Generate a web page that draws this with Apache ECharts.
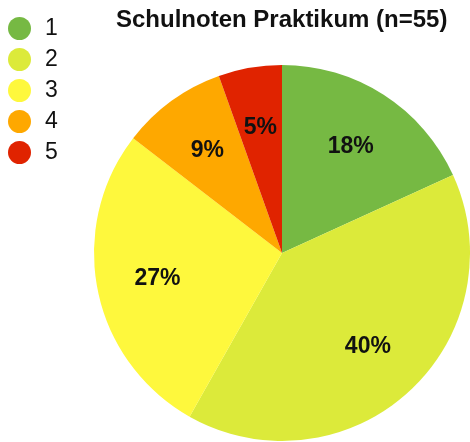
<!DOCTYPE html>
<html>
<head>
<meta charset="utf-8">
<script src="https://cdn.jsdelivr.net/npm/echarts@6/dist/echarts.min.js"></script>
<style>
  html, body { margin: 0; padding: 0; background: #fff; }
  #chart { width: 470px; height: 442px; }
</style>
</head>
<body>
<div id="chart"></div>
<script>
// Schulnoten Praktikum, n=55
let grades = ["1", "2", "3", "4", "5"];
let counts = [10, 22, 15, 5, 3];
let colors = ["#76b943", "#dcea3a", "#fef83d", "#fea800", "#e02300"];

let chartDom = document.getElementById("chart");
let chart = echarts.init(chartDom);

let total = counts.reduce((a, b) => a + b, 0);
let pieData = grades.map((g, i) => ({ name: g, value: counts[i] }));

let font = "'Liberation Sans', Arial, Helvetica, sans-serif";

chart.setOption({
    animation: false,
    color: colors,
    title: {
        text: "Schulnoten Praktikum (n=" + total + ")",
        left: 111,
        top: 3,
        textStyle: { fontFamily: font, fontSize: 24, fontWeight: "bold", color: "#111" }
    },
    legend: {
        orient: "vertical",
        left: 3,
        top: 12,
        icon: "circle",
        itemWidth: 23,
        itemHeight: 23,
        itemGap: 8,
        data: grades,
        textStyle: { fontFamily: font, fontSize: 23, color: "#111", padding: [0, 0, 0, 9] }
    },
    series: [
        {
            type: "pie",
            center: [282, 253],
            radius: [0, 188],
            startAngle: 90,
            clockwise: true,
            data: pieData,
            label: { show: false },
            labelLine: { show: false },
            emphasis: { disabled: true }
        },
        {
            // label-only layer, so labels sit at about 2/3 of the radius
            type: "pie",
            center: [282, 253],
            radius: [0, 248],
            startAngle: 90,
            clockwise: true,
            silent: true,
            data: pieData,
            itemStyle: { color: "transparent" },
            label: {
                show: true,
                position: "inside",
                formatter: p => Math.round(p.value / total * 100) + "%",
                fontFamily: font,
                fontSize: 23,
                fontWeight: "bold",
                color: "#111",
                padding: [6, 0, 0, 0]
            },
            labelLine: { show: false },
            emphasis: { disabled: true }
        }
    ]
});
</script>
</body>
</html>
